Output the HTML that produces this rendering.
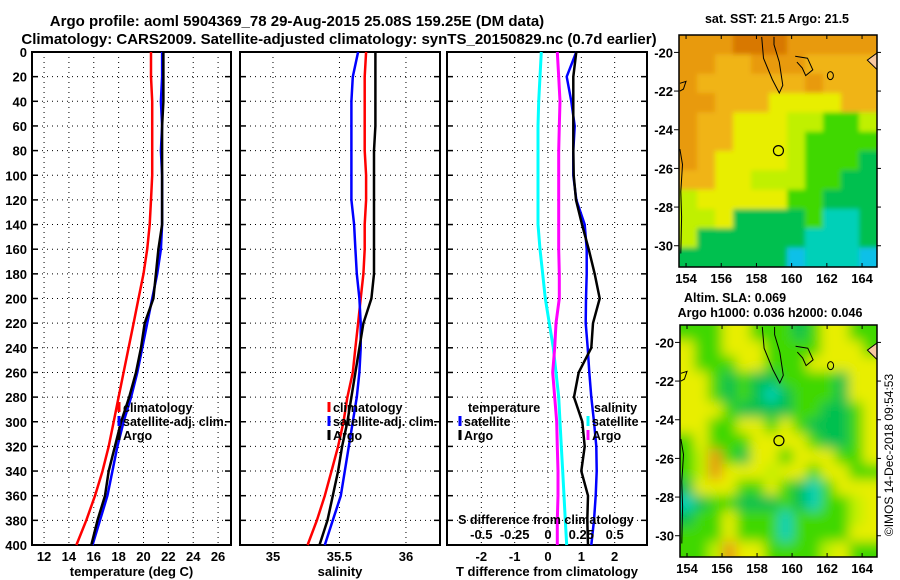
<!DOCTYPE html>
<html><head><meta charset="utf-8">
<style>
html,body{margin:0;padding:0;background:#fff;}
svg{display:block;font-family:"Liberation Sans",Arial,sans-serif;font-weight:bold;}
</style></head>
<body>
<svg id="chart" width="900" height="580" viewBox="0 0 900 580" xmlns="http://www.w3.org/2000/svg">
<defs>
<filter id="blurS" x="-10%" y="-10%" width="120%" height="120%"><feGaussianBlur stdDeviation="2.5"/></filter>
<filter id="blurL" x="-10%" y="-10%" width="120%" height="120%"><feGaussianBlur stdDeviation="6"/></filter>
</defs>
<text x="297" y="26" font-size="15" text-anchor="middle">Argo profile: aoml 5904369_78 29-Aug-2015 25.08S 159.25E (DM data)</text>
<text x="339" y="44" font-size="15" text-anchor="middle">Climatology: CARS2009. Satellite-adjusted climatology: synTS_20150829.nc (0.7d earlier)</text>
<g id="g"></g>
</svg>
<script>
const depths=[0,20,40,60,80,100,120,140,160,180,200,220,240,260,280,300,320,340,360,380,400];
const depthTicks=[0,20,40,60,80,100,120,140,160,180,200,220,240,260,280,300,320,340,360,380,400];
const tempClim=[20.6,20.6,20.7,20.7,20.7,20.7,20.6,20.5,20.3,20.0,19.6,19.2,18.8,18.4,18.0,17.6,17.2,16.7,16.1,15.4,14.6];
const tempSat=[21.5,21.5,21.4,21.5,21.4,21.5,21.5,21.5,21.4,21.1,20.7,20.3,19.9,19.5,19.0,18.4,17.9,17.5,17.1,16.5,15.9];
const tempArgo=[21.6,21.6,21.6,21.5,21.5,21.5,21.5,21.5,21.2,21.0,20.8,20.1,19.8,19.4,18.85,18.2,17.7,17.2,16.9,16.3,15.8];
const salClim=[35.70,35.69,35.69,35.69,35.69,35.70,35.70,35.69,35.69,35.68,35.66,35.64,35.62,35.60,35.56,35.53,35.49,35.44,35.39,35.33,35.26];
const salSat=[35.64,35.60,35.59,35.59,35.59,35.59,35.59,35.61,35.62,35.63,35.65,35.66,35.66,35.65,35.63,35.60,35.57,35.54,35.51,35.45,35.39];
const salArgo=[35.77,35.77,35.77,35.77,35.76,35.76,35.76,35.76,35.76,35.76,35.74,35.68,35.65,35.62,35.59,35.56,35.52,35.49,35.45,35.41,35.35];
const tDiffSat=[0.85,0.56,0.7,0.8,0.76,0.76,0.85,1.1,1.16,1.16,1.14,1.13,1.19,1.24,1.3,1.38,1.45,1.46,1.43,1.38,1.3];
const tDiffArgo=[0.85,0.76,0.76,0.76,0.76,0.77,0.84,1.02,1.22,1.4,1.55,1.35,1.3,0.92,0.78,1.03,1.1,1.0,1.2,1.18,1.2];
const sDiffSat=[-0.05,-0.06,-0.07,-0.075,-0.075,-0.075,-0.075,-0.075,-0.06,-0.04,-0.02,0.01,0.04,0.06,0.08,0.09,0.10,0.11,0.12,0.13,0.14];
const sDiffArgo=[0.07,0.08,0.09,0.085,0.08,0.08,0.08,0.08,0.08,0.085,0.085,0.06,0.05,0.035,0.05,0.065,0.07,0.075,0.075,0.07,0.07];
const tempTicks=[12,14,16,18,20,22,24,26];
const salTicks=[35,35.5,36];
const tdTicks=[-2,-1,0,1,2];
const sdTicks=[-0.5,-0.25,0,0.25,0.5];
const sdTickLabels=["-0.5","-0.25","0","0.25","0.5"];
const lonTicks=[154,156,158,160,162,164];
const latTicks=[-20,-22,-24,-26,-28,-30];
const sstGrid=["oooRRRooooo","ooOOoooOOOO","oOOOOOOoOOO","ooOOOyyyyOO","oOOyyyYYggY","oOOyyyYgggg","oOyyyyYgggG","OOyyYYYggGG","YyyyyyggGGG","YYyGGGGgccG","YGGGGGGcccG","GGGGGGbcccb"];
const slaGrid=["gggyygggGgyygg","yggyyyggggyyyg","ygggyygggyyyyy","yygGgGGggggGyy","yygGgGcGgggGyy","yyygGGGGggGGgy","yyggyygygGGGgy","gygggyyyygGGgy","gYogGyygyyyggy","gYoyyyYyygyygg","GyyyggygGcgyyy","cGggGGGgGcggYy","GggygggcggggYy","gggygggcggggyy","ggYoyyggggYygg"];
const palette={R:"#d87800",o:"#e89a10",O:"#f0b418",y:"#e8ee00",Y:"#c0f000",g:"#40d800",G:"#00c050",c:"#00d0b8",b:"#10c0e8"};

const NS="http://www.w3.org/2000/svg";
const root=document.getElementById('g');
function mk(tag,attrs,parent){const e=document.createElementNS(NS,tag);for(const k in attrs)e.setAttribute(k,attrs[k]);(parent||root).appendChild(e);return e;}
const Y0=52,Y1=545;
function yD(d){return Y0+(d/400)*(Y1-Y0);}

function panel(name,x0,x1,vmin,vmax,ticks,labels,xlabel){
  const g=mk('g',{});
  
  
  const sx=v=>x0+(v-vmin)/(vmax-vmin)*(x1-x0);
  depthTicks.forEach(d=>{
    const y=yD(d);
    if(d>0&&d<400){const l=mk('line',{x1:x0,x2:x1,y1:y,y2:y,stroke:'#000','stroke-width':1,'stroke-dasharray':'1,4'},g);
    
    }
    mk('line',{x1:x0,x2:x0+6,y1:y,y2:y,stroke:'#000','stroke-width':1.5},g);
    mk('line',{x1:x1-6,x2:x1,y1:y,y2:y,stroke:'#000','stroke-width':1.5},g);
  });
  ticks.forEach((v,i)=>{
    const x=sx(v);
    const l=mk('line',{x1:x,x2:x,y1:Y0,y2:Y1,stroke:'#000','stroke-width':1,'stroke-dasharray':'1,4'},g);
    
    
    const t=mk('text',{x:x,y:561,'font-size':13,'text-anchor':'middle'},g);
    t.textContent=labels[i];
    
    
  });
  const r=mk('rect',{x:x0,y:Y0,width:x1-x0,height:Y1-Y0,fill:'none',stroke:'#000','stroke-width':2},g);
  
  
  const t=mk('text',{x:(x0+x1)/2,y:576,'font-size':13,'text-anchor':'middle'},g);
  t.textContent=xlabel;
  
  
  return {g,sx};
}
function profile(p,vals,color,w,name,sx){
  const pts=vals.map((v,i)=>(sx||p.sx)(v).toFixed(1)+','+yD(depths[i]).toFixed(1)).join(' ');
  const l=mk('polyline',{points:pts,fill:'none',stroke:color,'stroke-width':w,'stroke-linejoin':'round'},p.g);
  
  
}
function legend(g,x,y,color,label,name){
  const b=mk('line',{x1:x,x2:x,y1:y-10,y2:y,stroke:color,'stroke-width':3},g);
  
  
  const t=mk('text',{x:x+4,y:y,'font-size':12.5},g);
  t.textContent=label;
  
  
}

depthTicks.forEach(d=>{
  const t=mk('text',{x:27,y:yD(d)+5,'font-size':13,'text-anchor':'end'});
  t.textContent=d;
  
  
});

const p1=panel('temperature-panel',32,231,11.03,27.04,tempTicks,tempTicks.map(String),'temperature (deg C)');
profile(p1,tempClim,'#f00',2.5,'temperature-climatology-line');
profile(p1,tempSat,'#00f',2.5,'temperature-satellite-line');
profile(p1,tempArgo,'#000',2.5,'temperature-argo-line');
legend(p1.g,119,412,'#f00','climatology','legend-climatology');
legend(p1.g,119,426,'#00f','satellite-adj. clim.','legend-satellite-adj');
legend(p1.g,119,440,'#000','Argo','legend-argo');

const p2=panel('salinity-panel',240,440,34.752,36.256,salTicks,['35','35.5','36'],'salinity');
profile(p2,salClim,'#f00',2.5,'salinity-climatology-line');
profile(p2,salSat,'#00f',2.5,'salinity-satellite-line');
profile(p2,salArgo,'#000',2.5,'salinity-argo-line');
legend(p2.g,329,412,'#f00','climatology','legend-climatology');
legend(p2.g,329,426,'#00f','satellite-adj. clim.','legend-satellite-adj');
legend(p2.g,329,440,'#000','Argo','legend-argo');

const p3=panel('difference-panel',447,647,-3.03,2.97,tdTicks,tdTicks.map(String),'T difference from climatology');
const sxS=v=>p3.sx(v*4);
profile(p3,sDiffSat,'#0ff',3,'s-diff-satellite-line',sxS);
profile(p3,sDiffArgo,'#f0f',3,'s-diff-argo-line',sxS);
profile(p3,tDiffSat,'#00f',2.5,'t-diff-satellite-line');
profile(p3,tDiffArgo,'#000',2.5,'t-diff-argo-line');
sdTicks.forEach((v,i)=>{
  const t=mk('text',{x:sxS(v),y:539,'font-size':13,'text-anchor':'middle'},p3.g);
  t.textContent=sdTickLabels[i];
  
  
});
{const t=mk('text',{x:546,y:524,'font-size':12.5,'text-anchor':'middle'},p3.g);
t.textContent='S difference from climatology';

}
{const t=mk('text',{x:468,y:412,'font-size':12.5},p3.g);t.textContent='temperature';

}
{const t=mk('text',{x:594,y:412,'font-size':12.5},p3.g);t.textContent='salinity';

}
legend(p3.g,460,426,'#00f','satellite','legend-t-satellite');
legend(p3.g,460,440,'#000','Argo','legend-t-argo');
legend(p3.g,588,426,'#0ff','satellite','legend-s-satellite');
legend(p3.g,588,440,'#f0f','Argo','legend-s-argo');

function map(name,x0,y0,x1,y1,lon0,lon1,latTop,latBot,grid,filt){
  const g=mk('g',{});
  
  
  const px=lo=>x0+(lo-lon0)/(lon1-lon0)*(x1-x0);
  const py=la=>y0+(latTop-la)/(latTop-latBot)*(y1-y0);
  const cid='clip-'+name;
  const cp=mk('clipPath',{id:cid},g);
  mk('rect',{x:x0,y:y0,width:x1-x0,height:y1-y0},cp);
  const clipG=mk('g',{'clip-path':'url(#'+cid+')'},g);
  const cellG=mk('g',{filter:'url(#'+filt+')'},clipG);
  const rows=grid.length,cols=grid[0].length,cw=(x1-x0)/cols,ch=(y1-y0)/rows,M=15;
  grid.forEach((row,r)=>{for(let c=0;c<cols;c++){
    let x=x0+c*cw,y=y0+r*ch,w=cw+0.6,h=ch+0.6;
    if(c===0){x-=M;w+=M;} if(c===cols-1){w+=M;}
    if(r===0){y-=M;h+=M;} if(r===rows-1){h+=M;}
    const cell=mk('rect',{x:x.toFixed(2),y:y.toFixed(2),width:w.toFixed(2),height:h.toFixed(2),fill:palette[row[c]]},cellG);
    
    
  }});
  const P=a=>a.map(p=>px(p[0]).toFixed(1)+','+py(p[1]).toFixed(1)).join(' ');
  const coast=[[[158.3,-19.2],[158.4,-20.3],[158.9,-21.4],[159.3,-22.1],[159.5,-21.7],[159.3,-20.5],[159.0,-19.6],[159.0,-19.2]],
    [[160.2,-20.2],[160.9,-20.3],[161.2,-20.9],[160.8,-21.2],[160.6,-20.8],[160.3,-20.5]],
    [[153.65,-21.6],[154.0,-21.5],[153.85,-21.9],[153.65,-22.0]],
    [[153.65,-25.0],[153.8,-25.8],[153.7,-27.2],[153.75,-28.5],[153.7,-30.4]]];
  coast.forEach(c=>{const l=mk('polyline',{points:P(c),fill:'none',stroke:'#000','stroke-width':1},clipG);
    });
  mk('ellipse',{cx:px(162.2),cy:py(-21.2),rx:3,ry:4,fill:'none',stroke:'#000','stroke-width':1},clipG);
  mk('polygon',{points:P([[164.3,-20.4],[165.2,-19.8],[165.2,-21.2]]),fill:'#f8c8a0',stroke:'#000','stroke-width':1},clipG);
  const c=mk('circle',{cx:px(159.25),cy:py(-25.08),r:5,fill:'none',stroke:'#000','stroke-width':1.2},g);
  
  
  lonTicks.forEach(lo=>{const x=px(lo);
    mk('line',{x1:x,x2:x,y1:y0,y2:y0+4,stroke:'#000'},g);mk('line',{x1:x,x2:x,y1:y1,y2:y1-4,stroke:'#000'},g);
    const t=mk('text',{x:x,y:y1+16,'font-size':13,'text-anchor':'middle'},g);t.textContent=lo;
    });
  latTicks.forEach(la=>{const y=py(la);
    mk('line',{x1:x0-5,x2:x0,y1:y,y2:y,stroke:'#000'},g);mk('line',{x1:x1,x2:x1+4,y1:y,y2:y,stroke:'#000'},g);
    const t=mk('text',{x:x0-6,y:y+5,'font-size':13,'text-anchor':'end'},g);t.textContent=la;
    });
  const r=mk('rect',{x:x0,y:y0,width:x1-x0,height:y1-y0,fill:'none',stroke:'#000','stroke-width':1.5},g);
  
}
map('sst-map',679,35,877,267,153.6,164.85,-19.1,-31.1,sstGrid,'blurS');
map('sla-map',680,325,877,557,153.6,164.85,-19.1,-31.1,slaGrid,'blurL');
[['sst-map-title','sat. SST: 21.5 Argo: 21.5',777,23],['sla-map-title','Altim. SLA: 0.069',735,302],['argo-height-title','Argo h1000: 0.036 h2000: 0.046',770,317]].forEach(a=>{
  const t=mk('text',{x:a[2],y:a[3],'font-size':12.5,'text-anchor':'middle'});t.textContent=a[1];
  });
{const t=mk('text',{x:0,y:0,'font-size':12,'font-weight':'normal','text-anchor':'middle',transform:'translate(893,455) rotate(-90)'});
t.textContent='\u00a9IMOS 14-Dec-2018 09:54:53';
}
</script>
</body></html>
